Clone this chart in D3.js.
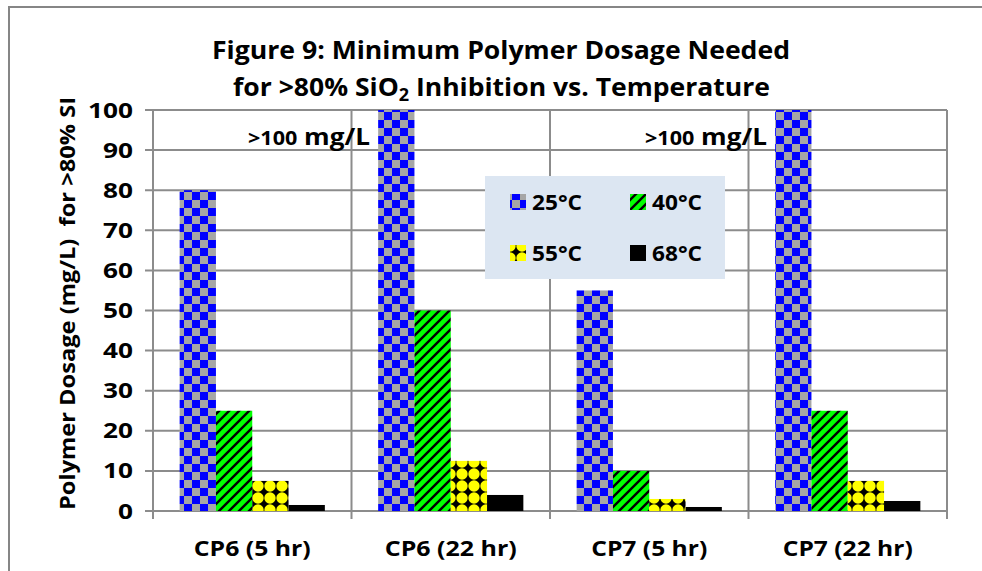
<!DOCTYPE html>
<html><head><meta charset="utf-8">
<script src="https://cdn.jsdelivr.net/npm/d3@7"></script>
<style>
html,body{margin:0;padding:0;background:#fff;}
svg{display:block;font-family:"Open Sans",Lato,sans-serif;}
</style></head>
<body>
<svg id="chart" width="982" height="571"></svg>
<script>
const categories = ["CP6 (5 hr)", "CP6 (22 hr)", "CP7 (5 hr)", "CP7 (22 hr)"];
const seriesNames = ["25°C", "40°C", "55°C", "68°C"];
const values25 = [80, 100, 55, 100];
const values40 = [25, 50, 10, 25];
const values55 = [7.5, 12.5, 3, 7.5];
const values68 = [1.5, 4, 1, 2.5];
const yTicks = [0, 10, 20, 30, 40, 50, 60, 70, 80, 90, 100];
const annotations = [{cat: "CP6 (5 hr)", value: 90, big: ">100", small: " mg/L"}, {cat: "CP7 (5 hr)", value: 90, big: ">100", small: " mg/L"}];

(function(){
const seriesValues = [values25, values40, values55, values68];
const svg = d3.select("#chart");
const defs = svg.append("defs");

const p1 = defs.append("pattern").attr("id","pat0").attr("patternUnits","userSpaceOnUse").attr("width",16).attr("height",16);
p1.append("rect").attr("width",16).attr("height",16).attr("fill","#a6a6a6");
p1.append("rect").attr("width",8).attr("height",8).attr("fill","#0000ff");
p1.append("rect").attr("x",8).attr("y",8).attr("width",8).attr("height",8).attr("fill","#0000ff");

const p2 = defs.append("pattern").attr("id","pat1").attr("patternUnits","userSpaceOnUse").attr("width",10).attr("height",10);
p2.append("rect").attr("width",10).attr("height",10).attr("fill","#00ff00");
p2.append("path").attr("d","M-2,12 L12,-2 M-7,7 L7,-7 M3,17 L17,3").attr("stroke","#000").attr("stroke-width",2.4);

const p3 = defs.append("pattern").attr("id","pat2").attr("patternUnits","userSpaceOnUse").attr("width",12).attr("height",12);
p3.append("rect").attr("width",12).attr("height",12).attr("fill","#000");
p3.append("circle").attr("cx",6).attr("cy",6).attr("r",5.7).attr("fill","#ffff00");

const fills = ["url(#pat0)","url(#pat1)","url(#pat2)","#000"];

svg.append("path").attr("d","M9,600 L9,7 L1000,7").attr("fill","none").attr("stroke","#868686").attr("stroke-width",2);

const pLeft = 153, pRight = 947, pTop = 110, pBottom = 511;
const x0 = d3.scaleBand().domain(categories).range([pLeft, pRight]).padding(0);
const x1 = d3.scaleBand().domain(seriesNames).range([0, x0.bandwidth()]).paddingInner(0).paddingOuter(0.734);
const y = d3.scaleLinear().domain([0, 100]).range([pBottom, pTop]);

const gridColor = "#8c8c8c";
svg.append("g").selectAll("line").data(yTicks).join("line")
  .attr("x1", pLeft - 8).attr("x2", pRight)
  .attr("y1", d => y(d)).attr("y2", d => y(d))
  .attr("stroke", gridColor).attr("stroke-width", 2);
const vx = [pLeft].concat(categories.map(c => x0(c) + x0.bandwidth()));
svg.append("g").selectAll("line").data(vx).join("line")
  .attr("x1", d => d).attr("x2", d => d)
  .attr("y1", pTop).attr("y2", pBottom + 8)
  .attr("stroke", gridColor).attr("stroke-width", 2);

const gBars = svg.append("g");
seriesNames.forEach((s, si) => {
  gBars.append("g").selectAll("rect").data(categories).join("rect")
    .attr("x", c => x0(c) + x1(s))
    .attr("width", x1.bandwidth())
    .attr("y", (c, i) => y(seriesValues[si][i]))
    .attr("height", (c, i) => y(0) - y(seriesValues[si][i]))
    .attr("fill", fills[si]);
});

svg.append("g").selectAll("text").data(yTicks).join("text")
  .attr("x", 133).attr("y", d => y(d) + 7.5)
  .attr("text-anchor", "end").attr("font-weight", "bold").attr("font-size", 21)
  .attr("textLength", d => String(d).length * 15).attr("lengthAdjust", "spacingAndGlyphs")
  .attr("fill", "#000").text(d => d);

const xLabelW = [117, 132, 116, 130];
svg.append("g").selectAll("text").data(categories).join("text")
  .attr("x", c => x0(c) + x0.bandwidth() / 2).attr("y", 556)
  .attr("text-anchor", "middle").attr("font-weight", "bold").attr("font-size", 22)
  .attr("textLength", (c, i) => xLabelW[i]).attr("lengthAdjust", "spacingAndGlyphs")
  .text(c => c);

svg.append("text").attr("transform", "translate(75,303.5) rotate(-90)")
  .attr("text-anchor", "middle").attr("font-weight", "bold").attr("font-size", 22)
  .attr("textLength", 413).attr("lengthAdjust", "spacingAndGlyphs")
  .text("Polymer Dosage (mg/L)\u00a0\u00a0for >80% SI");

const t = svg.append("g").attr("font-weight", "bold").attr("text-anchor", "middle");
t.append("text").attr("x", 501).attr("y", 59).attr("font-size", 25)
  .attr("textLength", 578).attr("lengthAdjust", "spacingAndGlyphs")
  .text("Figure 9: Minimum Polymer Dosage Needed");
const t2 = t.append("text").attr("x", 501.5).attr("y", 96).attr("font-size", 25)
  .attr("textLength", 537).attr("lengthAdjust", "spacingAndGlyphs");
t2.append("tspan").text("for >80% SiO");
t2.append("tspan").attr("font-size", 17).attr("dy", 5).text("2");
t2.append("tspan").attr("dy", -5).text(" Inhibition vs. Temperature");

annotations.forEach(a => {
  const tx = svg.append("text").attr("x", x0(a.cat) + 95).attr("y", y(a.value) - 5).attr("font-weight", "bold")
    .attr("textLength", 122).attr("lengthAdjust", "spacingAndGlyphs");
  tx.append("tspan").attr("font-size", 19).text(a.big);
  tx.append("tspan").attr("font-size", 23).text(a.small);
});

const lg = svg.append("g");
lg.append("rect").attr("x", 485).attr("y", 176).attr("width", 240).attr("height", 103).attr("fill", "#dce6f2");
const legPos = [[510, 194], [630, 194], [510, 245], [630, 245]];
seriesNames.forEach((s, i) => {
  lg.append("rect").attr("x", legPos[i][0]).attr("y", legPos[i][1]).attr("width", 16).attr("height", 16).attr("fill", fills[i]);
  lg.append("text").attr("x", legPos[i][0] + 22).attr("y", legPos[i][1] + 16)
    .attr("font-weight", "bold").attr("font-size", 22)
    .attr("textLength", 50).attr("lengthAdjust", "spacingAndGlyphs").text(s);
});
})();
</script>
</body></html>
